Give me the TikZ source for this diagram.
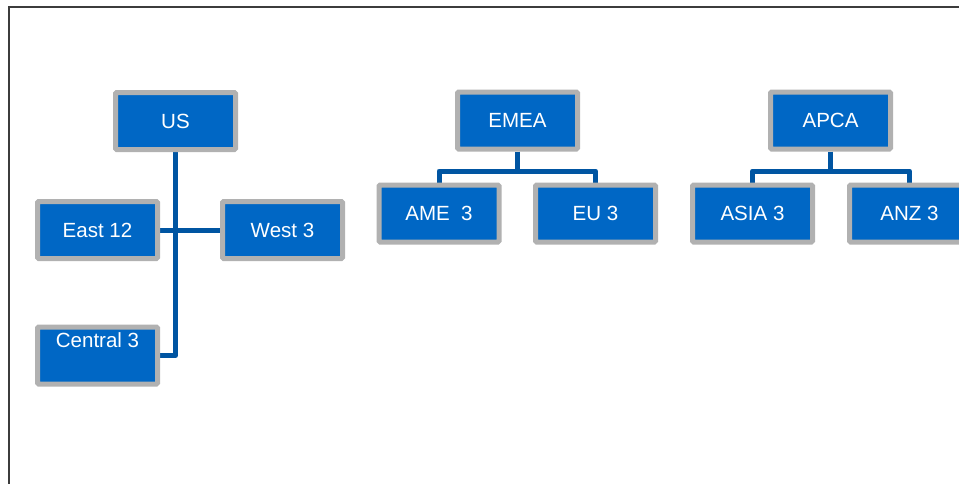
\documentclass[tikz,border=0pt]{standalone}
\usepackage{fontspec}
\setmainfont{Liberation Sans}
\usetikzlibrary{backgrounds}
\definecolor{boxblue}{HTML}{0067C5}
\definecolor{boxgray}{HTML}{B1B1B1}
\definecolor{linkblue}{HTML}{0055A2}
\definecolor{framegray}{HTML}{3C3C3C}
\tikzset{
  orgbox/.style={draw=boxgray, fill=boxblue, line width=3.75pt, rounded corners=0.8pt,
    minimum width=90pt, minimum height=42.75pt, inner sep=0pt, text=white,
    font=\fontsize{15.4}{18}\selectfont},
  toptext/.style={text height=11pt, text depth=23pt},
  link/.style={draw=linkblue, line width=3.75pt, line join=round},
  frameline/.style={draw=framegray, line width=1.6pt}
}
\begin{document}
\begin{tikzpicture}[x=0.75pt,y=-0.75pt]
\useasboundingbox (0,0) rectangle (959,483);
\clip (0,0) rectangle (959,483);
\coordinate (fbl) at (9,490);
\coordinate (ftl) at (9,7);
\coordinate (ftr) at (970,7);
\draw[frameline] (fbl) -- (ftl) -- (ftr);
% US group
\node[orgbox] (US) at (175.5,121) {US};
\node[orgbox] (East) at (97.5,230) {East 12};
\node[orgbox] (West) at (282.5,230) {West 3};
\node[orgbox,toptext] (Central) at (97.5,355.5) {Central 3};
% EMEA group
\node[orgbox] (EMEA) at (517.5,120.5) {EMEA};
\node[orgbox] (AME) at (439,213.5) {AME\ \ 3};
\node[orgbox] (EU) at (595.5,213.5) {EU 3};
% APCA group
\node[orgbox] (APCA) at (830.5,120.5) {APCA};
\node[orgbox] (ASIA) at (752.5,213.5) {ASIA 3};
\node[orgbox] (ANZ) at (909.5,213.5) {ANZ 3};
\begin{scope}[on background layer]
\draw[link] (US.south) |- (Central.east);
\draw[link] (East.east) -- (West.west);
\draw[link] (EMEA.south) -- ++(0,19.5) -| (AME.north);
\draw[link] (EMEA.south) -- ++(0,19.5) -| (EU.north);
\draw[link] (APCA.south) -- ++(0,19.5) -| (ASIA.north);
\draw[link] (APCA.south) -- ++(0,19.5) -| (ANZ.north);
\end{scope}
\end{tikzpicture}
\end{document}
